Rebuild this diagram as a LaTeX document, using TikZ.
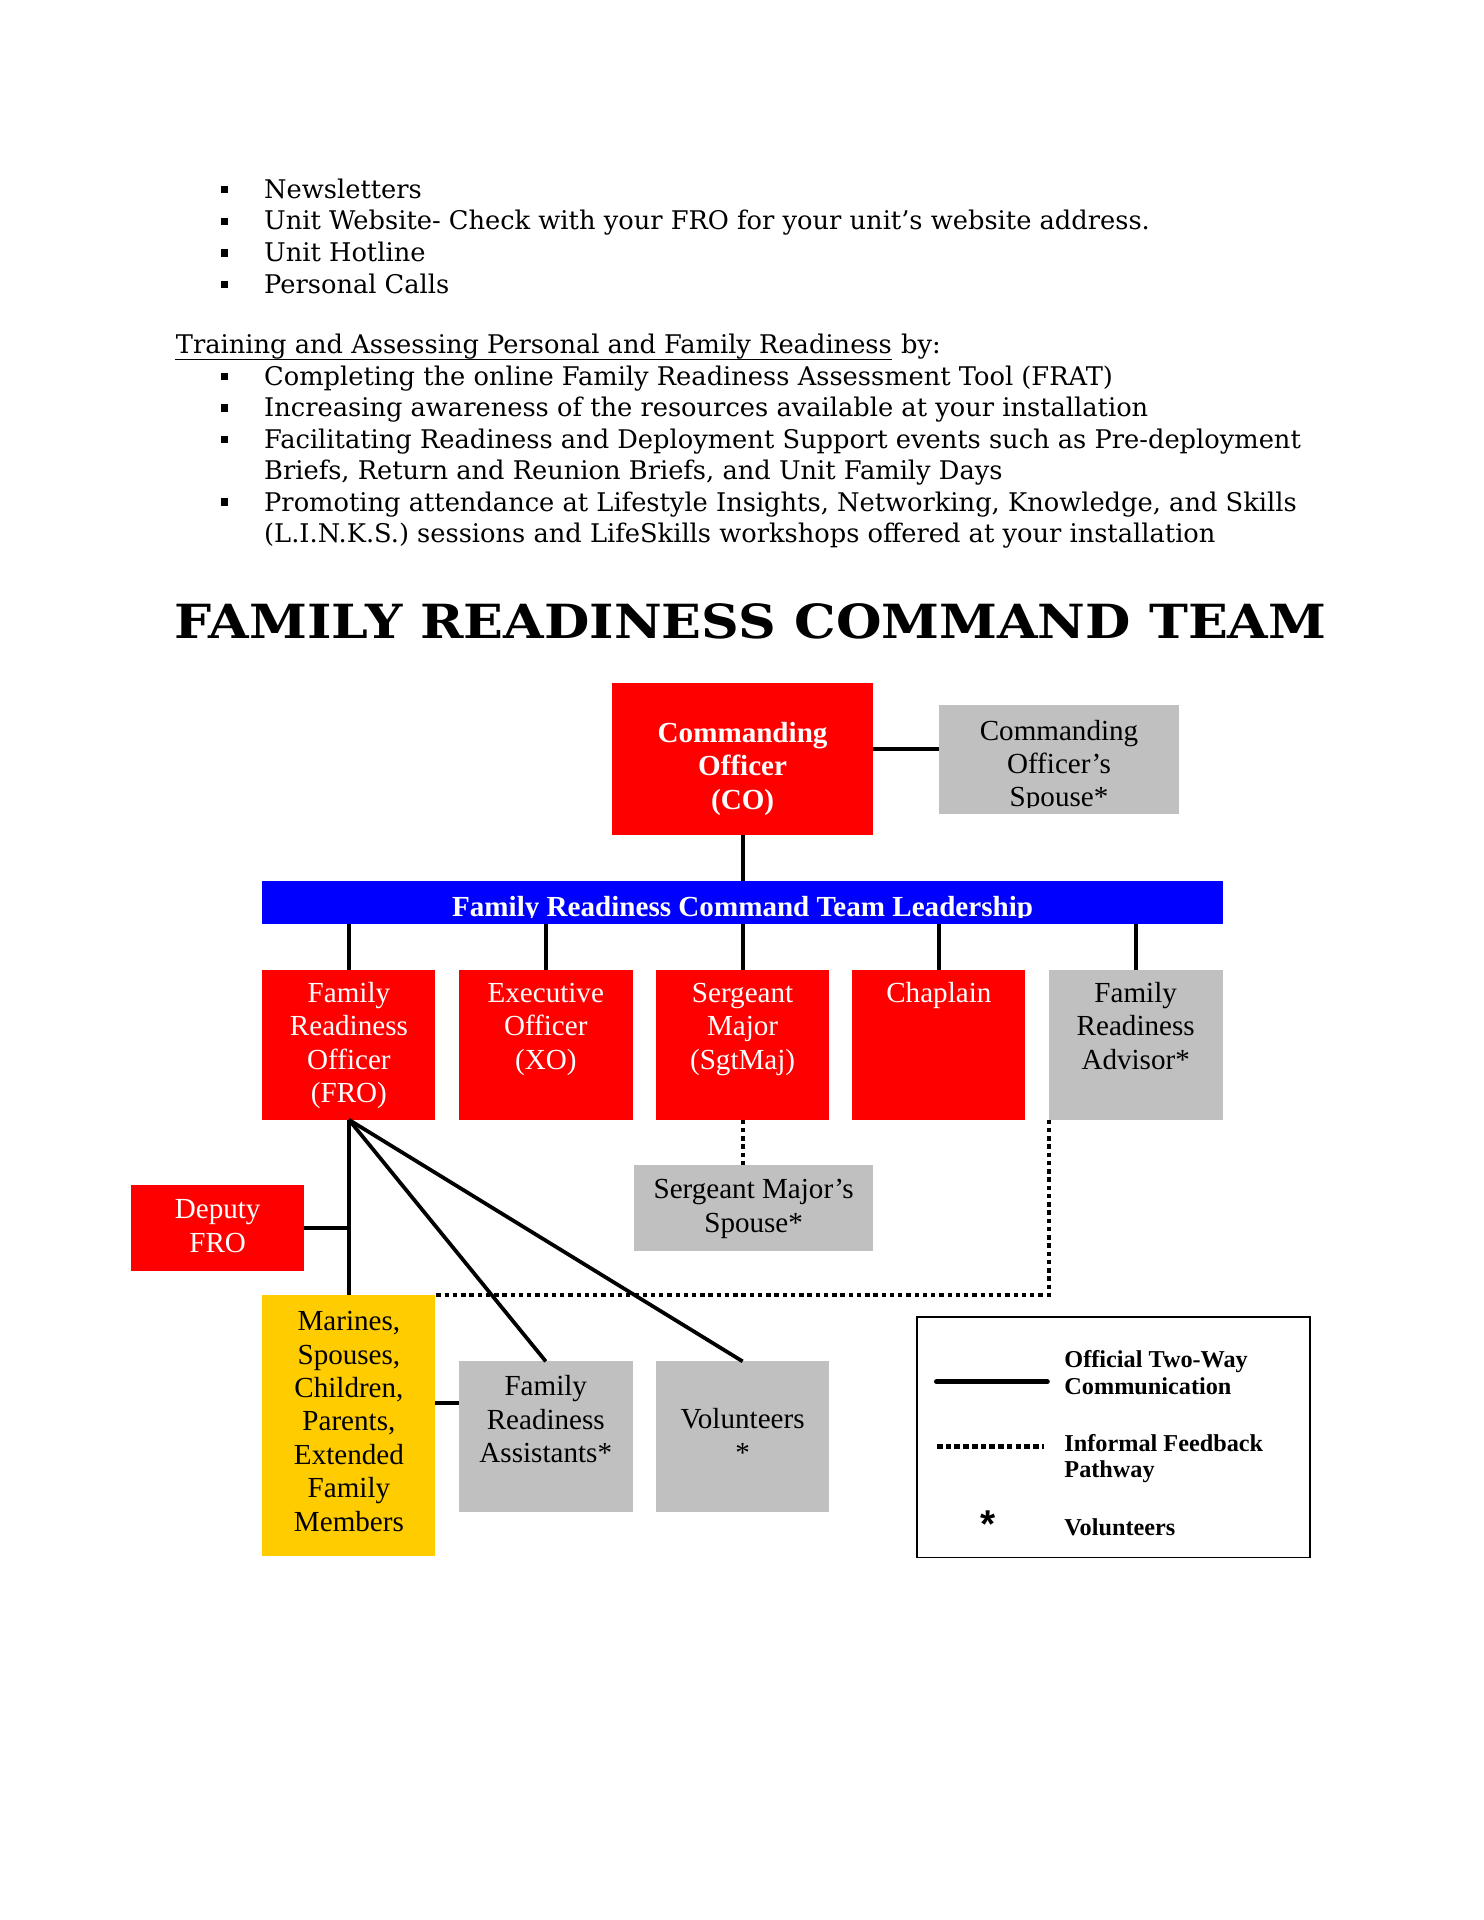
\documentclass[tikz,border=0pt]{standalone}
\usepackage{fontspec}
\usepackage{graphicx}
\setmainfont{Liberation Serif}
\newfontfamily\bodyfont{DejaVu Serif}
\newfontfamily\starfont{Liberation Sans}
\usetikzlibrary{fit}
\definecolor{frred}{RGB}{255,0,0}
\definecolor{frgray}{RGB}{192,192,192}
\definecolor{fryellow}{RGB}{255,204,0}
\definecolor{frblue}{RGB}{0,0,255}
\begin{document}
\begin{tikzpicture}[x=0.5058pt,y=-0.5058pt,
  area/.style={inner sep=0pt, outer sep=0pt, draw=none},
  redbox/.style={area, fill=frred},
  graybox/.style={area, fill=frgray},
  yellowbox/.style={area, fill=fryellow},
  bluebar/.style={area, fill=frblue},
  btext/.style={font=\fontsize{12}{13.8}\selectfont, align=center, inner sep=0pt, anchor=north, yshift=9.66pt},
  wtext/.style={btext, text=white},
  bwtext/.style={wtext, font=\fontsize{12}{13.8}\selectfont\bfseries},
  ptext/.style={font=\bodyfont\fontsize{10.6}{13.1}\selectfont, inner sep=0pt, anchor=base west},
  ptexttwo/.style={font=\bodyfont\fontsize{10.6}{12.95}\selectfont, align=left, inner sep=0pt, anchor=north west, yshift=9.065pt},
  bul/.style={fill=black, inner sep=0pt, minimum size=3pt},
  official/.style={line width=1.55pt},
  informal/.style={line width=1.65pt, dash pattern=on 1.8pt off 1.6pt},
  ltext/.style={font=\fontsize{10}{10.9}\selectfont\bfseries, align=left, inner sep=0pt, anchor=north west, yshift=7.63pt},
]
\useasboundingbox (0,0) rectangle (1210,1565.5);

% ---------- upper text ----------
\node[bul] (b1) at (183,154.5) {};
\node[ptext] (t1) at (215,161.5) {Newsletters};
\node[bul] (b2) at (183,180.4) {};
\node[ptext] (t2) at (215,187.4) {Unit Website- Check with your FRO for your unit’s website address.};
\node[bul] (b3) at (183,206.3) {};
\node[ptext] (t3) at (215,213.3) {Unit Hotline};
\node[bul] (b4) at (183,232.2) {};
\node[ptext] (t4) at (215,239.2) {Personal Calls};

\node[ptext] (trainA) at (143,288.6) {Training and Assessing Personal and Family Readiness};
\node[ptext] (trainB) at (trainA.base east) {\ by:};
\draw[line width=0.5pt] ([yshift=-2.2pt]trainA.base west) -- ([yshift=-2.2pt]trainA.base east);

\node[bul] (b5) at (183,307) {};
\node[ptext] (t5) at (215,314) {Completing the online Family Readiness Assessment Tool (FRAT)};
\node[bul] (b6) at (183,332.6) {};
\node[ptext] (t6) at (215,339.6) {Increasing awareness of the resources available at your installation};
\node[bul] (b7) at (183,358.2) {};
\node[ptexttwo] (t7) at (215,365.2) {\strut Facilitating Readiness and Deployment Support events such as Pre-deployment\\Briefs, Return and Reunion Briefs, and Unit Family Days};
\node[bul] (b8) at (183,409.4) {};
\node[ptexttwo] (t8) at (215,416.4) {\strut Promoting attendance at Lifestyle Insights, Networking, Knowledge, and Skills\\(L.I.N.K.S.) sessions and LifeSkills workshops offered at your installation};

% ---------- title ----------
\node[anchor=base west, inner sep=0pt] (title) at (142,520.5)
  {\resizebox{475pt}{14.4pt}{\bodyfont\bfseries FAMILY READINESS COMMAND TEAM}};

% ---------- boxes ----------
\node[redbox, fit={(499,557) (712,681)}] (co) {};
\node[graybox, fit={(766,575) (961,664)}] (cosp) {};
\node[bluebar, fit={(214,718) (997,753)}] (bar) {};
\node[redbox, fit={(214,791) (355,913)}] (fro) {};
\node[redbox, fit={(374,791) (516,913)}] (xo) {};
\node[redbox, fit={(535,791) (676,913)}] (sgm) {};
\node[redbox, fit={(695,791) (836,913)}] (chap) {};
\node[graybox, fit={(855,791) (997,913)}] (adv) {};
\node[graybox, fit={(517,950) (712,1020)}] (sgmsp) {};
\node[redbox, fit={(107,966) (248,1036)}] (dep) {};
\node[yellowbox, fit={(214,1056) (355,1269)}] (fam) {};
\node[graybox, fit={(374,1110) (516,1233)}] (fra) {};
\node[graybox, fit={(535,1110) (676,1233)}] (vol) {};

% ---------- box texts ----------
\node[bwtext] (co-t) at (605.5,605) {\strut Commanding\\Officer\\(CO)};
\begin{scope}
  \clip (cosp.north west) rectangle (cosp.east |- 0,658.5);
  \node[btext] (cosp-t) at (863.5,603) {\strut Commanding\\Officer’s\\Spouse*};
\end{scope}
\begin{scope}
  \clip (bar.north west) rectangle (bar.east |- 0,748);
  \node[bwtext] (bar-t) at (605.5,747) {\strut Family Readiness Command Team Leadership};
\end{scope}
\node[wtext] (fro-t) at (284.5,817) {\strut Family\\Readiness\\Officer\\(FRO)};
\node[wtext] (xo-t) at (445,817) {\strut Executive\\Officer\\(XO)};
\node[wtext] (sgm-t) at (605.5,817) {\strut Sergeant\\Major\\(SgtMaj)};
\node[wtext] (chap-t) at (765.5,817) {\strut Chaplain};
\node[btext] (adv-t) at (926,817) {\strut Family\\Readiness\\Advisor*};
\node[btext] (sgmsp-t) at (614.5,977) {\strut Sergeant Major’s\\Spouse*};
\node[wtext] (dep-t) at (177.5,993.4) {\strut Deputy\\FRO};
\node[btext] (fam-t) at (284.5,1084.5) {\strut Marines,\\Spouses,\\Children,\\Parents,\\Extended\\Family\\Members};
\node[btext] (fra-t) at (445,1137.5) {\strut Family\\Readiness\\Assistants*};
\node[btext] (vol-t) at (605.5,1164.7) {\strut Volunteers\\*};

% ---------- connectors ----------
\draw[official] ([yshift=4.2pt]co.east) -- ([yshift=4.2pt]co.east -| cosp.west);
\draw[official] (co.south) -- (bar.north -| co.south);
\foreach \n in {fro,xo,sgm,chap,adv}{
  \draw[official] (bar.south -| \n.north) -- (\n.north);
}
\draw[informal] (sgm.south) -- (sgm.south |- sgmsp.north);
\draw[official] (fro.south) -- (fam.north);
\draw[official] (dep.east) -- (dep.east -| fro.south);
\draw[official] (fro.south) -- (fra.north);
\draw[official] (fro.south) -- (vol.north);
\draw[official] ([yshift=13.9pt]fra.west) -- ([yshift=13.9pt]fra.west -| fam.east);
\draw[informal] (adv.south west) -- (adv.south west |- fam.north east) -- (fam.north east);

% ---------- legend ----------
\node[area, draw=black, line width=0.6pt, fit={(747.5,1074) (1068,1270)}] (legend) {};
\coordinate (ls1) at (763.5,1126.6);
\coordinate (ls2) at (854,1126.6);
\draw[line width=2pt, line cap=round] (ls1) -- (ls2);
\coordinate (ld1) at (764,1179.6);
\coordinate (ld2) at (851,1179.6);
\draw[line width=2pt, dash pattern=on 2.3pt off 1.3pt] (ld1) -- (ld2);
\node[anchor=base, inner sep=0pt, font=\starfont\fontsize{16}{16}\selectfont\bfseries] (lstar) at (805.5,1254) {*};
\node[ltext] (l1) at (867.5,1115) {\strut Official Two-Way\\Communication};
\node[ltext] (l2) at (867.5,1183) {\strut Informal Feedback\\Pathway};
\node[ltext] (l3) at (867.5,1251.6) {\strut Volunteers};
\end{tikzpicture}
\end{document}
